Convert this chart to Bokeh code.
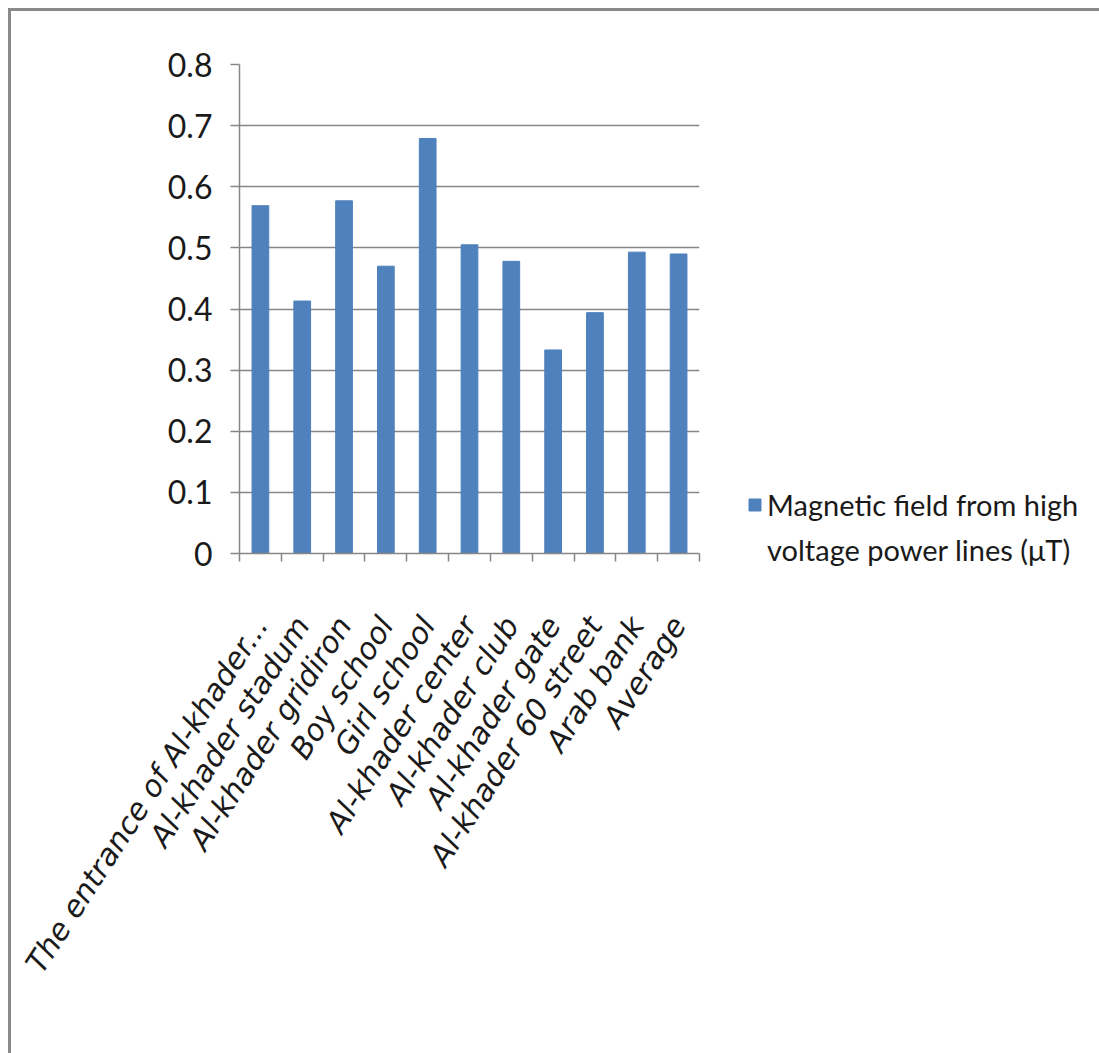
import math
from bokeh.plotting import figure
from bokeh.models import Range1d, FixedTicker, Legend, LegendItem
from bokeh.embed import file_html
from bokeh.resources import INLINE

# Measured magnetic field (µT) at each site near the high voltage lines
sites = [
    "The entrance of Al-khader...",
    "Al-khader stadum",
    "Al-khader gridiron",
    "Boy school",
    "Girl school",
    "Al-khader center",
    "Al-khader club",
    "Al-khader gate",
    "Al-khader 60 street",
    "Arab bank",
    "Average",
]
field_uT = [0.569, 0.413, 0.577, 0.470, 0.679, 0.505, 0.478, 0.333, 0.394, 0.493, 0.490]

y_ticks = [0, 0.1, 0.2, 0.3, 0.4, 0.5, 0.6, 0.7, 0.8]
y_tick_labels = ["0", "0.1", "0.2", "0.3", "0.4", "0.5", "0.6", "0.7", "0.8"]
series_lines = ["Magnetic field from high", "voltage power lines (\u03bcT)"]

GREY = "#868686"
BLUE = "#4f81bd"

pos = [i + 1 for i in range(len(sites))]

OFF = 11  # page border offset (margin + border width)
p = figure(
    frame_width=460, frame_height=489,
    x_range=Range1d(0.5, len(sites) + 0.5),
    y_range=Range1d(0, 0.8),
    output_backend="svg", toolbar_location=None,
    min_border_left=239 - OFF, min_border_right=0,
    min_border_top=64 - OFF, min_border_bottom=1053 - 553,
)
p.styles = {
    "margin-left": "8px", "margin-top": "8px",
    "border-left": "3px solid #8a8a8a", "border-top": "3px solid #8a8a8a",
}
p.outline_line_color = None
p.background_fill_color = "white"
p.border_fill_color = "white"

bars = p.vbar(x=pos, top=field_uT, width=0.4, fill_color=BLUE, line_color=BLUE)
# empty, invisible renderer that carries the second line of the legend entry
blank = p.scatter(x=[], y=[], size=0, fill_alpha=0, line_alpha=0)

# y axis
p.yaxis.ticker = FixedTicker(ticks=y_ticks)
p.yaxis.major_label_overrides = dict(zip(y_ticks, y_tick_labels))
p.yaxis.axis_line_color = GREY
p.yaxis.axis_line_width = 1.5
p.yaxis.major_tick_line_color = GREY
p.yaxis.major_tick_line_width = 1.5
p.yaxis.major_tick_in = 0
p.yaxis.major_tick_out = 9
p.yaxis.minor_tick_line_color = None
p.yaxis.major_label_standoff = 18
p.yaxis.major_label_text_font = "Lato"
p.yaxis.major_label_text_font_size = "32px"
p.yaxis.major_label_text_color = "#1a1a1a"

p.ygrid.grid_line_color = GREY
p.ygrid.grid_line_width = 1.5
p.ygrid.ticker = FixedTicker(ticks=y_ticks)
p.xgrid.grid_line_color = None

# x axis: labels at bar centres, tick marks at category boundaries
bounds = [i + 0.5 for i in range(len(sites) + 1)]
p.xaxis.ticker = FixedTicker(ticks=pos, minor_ticks=bounds)
p.xaxis.major_label_overrides = dict(zip(pos, sites))
p.xaxis.axis_line_color = GREY
p.xaxis.axis_line_width = 1.5
p.xaxis.major_tick_line_color = None
p.xaxis.minor_tick_line_color = GREY
p.xaxis.minor_tick_line_width = 1.5
p.xaxis.minor_tick_in = 0
p.xaxis.minor_tick_out = 8
p.xaxis.major_label_orientation = math.radians(57)
p.xaxis.major_label_standoff = 58
p.xaxis.major_label_text_font = "DejaVu Sans"
p.xaxis.major_label_text_font_style = "italic"
p.xaxis.major_label_text_font_size = "30px"
p.xaxis.major_label_text_color = "#1a1a1a"

legend = Legend(
    items=[
        LegendItem(label=series_lines[0], renderers=[bars]),
        LegendItem(label=series_lines[1], renderers=[blank]),
    ],
    location=(48, -14),
    border_line_color=None, background_fill_alpha=0,
    padding=0, margin=0, spacing=10,
    glyph_width=15, glyph_height=15, label_standoff=5,
    label_width=330,
    label_text_font="Lato", label_text_font_size="29px",
    label_text_color="#1a1a1a",
)
p.add_layout(legend, "right")

open("out.html", "w").write(file_html(p, INLINE))
